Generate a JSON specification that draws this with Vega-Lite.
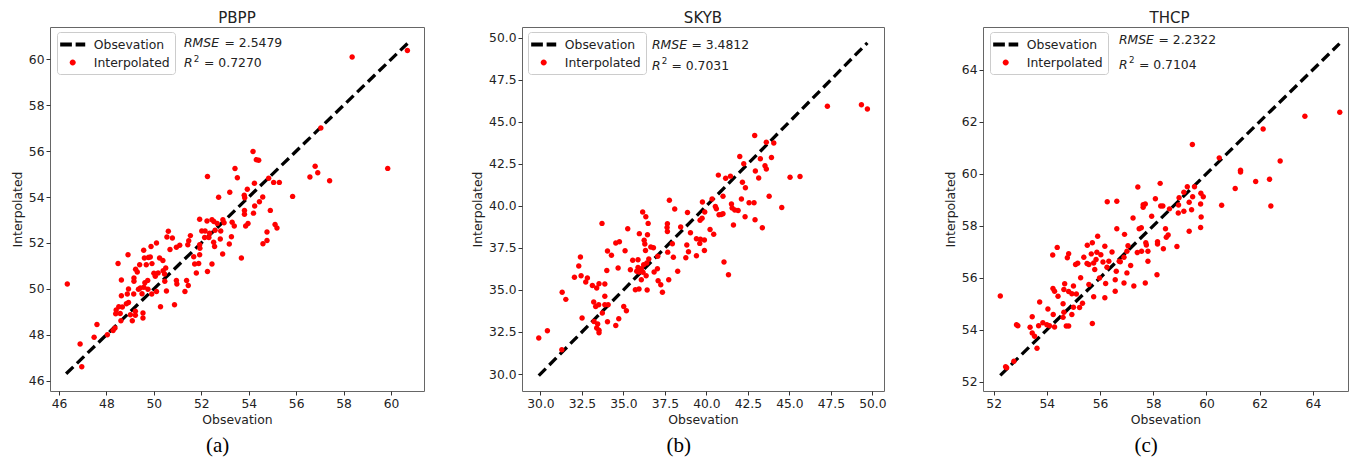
{
  "$schema": "https://vega.github.io/schema/vega-lite/v6.json",
  "background": "white",
  "padding": {"left": 10, "top": 10, "right": 0, "bottom": 0},
  "config": {
    "font": "DejaVu Sans",
    "view": {"stroke": "#666", "strokeWidth": 1},
    "axis": {"grid": false, "domain": false, "tickColor": "#333", "tickSize": 4, "tickWidth": 1, "labelFont": "DejaVu Sans", "labelFontSize": 12.3, "labelColor": "#222", "labelPadding": 2, "titleFont": "DejaVu Sans", "titleFontSize": 12.4, "titleFontWeight": "normal", "titleColor": "#222", "titlePadding": 4},
    "title": {"font": "DejaVu Sans", "color": "#222"},
    "legend": {"title": null, "orient": "none", "legendY": 5, "strokeColor": "#cccccc", "fillColor": "white", "cornerRadius": 3, "padding": 5, "labelFontSize": 12.4, "labelFont": "DejaVu Sans", "labelColor": "#222", "symbolSize": 225, "symbolOffset": 3.2, "labelOffset": 13.6, "rowPadding": 4, "symbolStrokeWidth": 0}
  },
  "datasets": {
    "la": [{"obs": 46.3, "pred": 46.3}, {"obs": 60.7, "pred": 60.7}],
    "lb": [{"obs": 29.9, "pred": 29.9}, {"obs": 49.7, "pred": 49.7}],
    "lc": [{"obs": 52.25, "pred": 52.25}, {"obs": 65.0, "pred": 65.0}],
    "sa": [{"rmse": "= 2.5479", "r2": "= 0.7270"}],
    "sb": [{"rmse": "= 3.4812", "r2": "= 0.7031"}],
    "sc": [{"rmse": "= 2.2322", "r2": "= 0.7104"}],
    "a": [{"obs":46.35,"pred":50.21},{"obs":46.89,"pred":47.60},{"obs":46.96,"pred":46.61},{"obs":47.60,"pred":48.45},{"obs":47.48,"pred":47.89},{"obs":48.04,"pred":48.0},{"obs":48.49,"pred":51.11},{"obs":58.36,"pred":60.10},{"obs":60.69,"pred":60.39},{"obs":57.04,"pred":57.01},{"obs":59.86,"pred":55.25},{"obs":56.80,"pred":55.34},{"obs":56.91,"pred":55.06},{"obs":56.58,"pred":54.87},{"obs":57.41,"pred":54.71},{"obs":55.85,"pred":54.03},{"obs":55.29,"pred":54.64},{"obs":55.05,"pred":54.64},{"obs":54.84,"pred":54.82},{"obs":54.18,"pred":55.99},{"obs":54.32,"pred":55.63},{"obs":54.42,"pred":55.60},{"obs":54.24,"pred":54.60},{"obs":53.42,"pred":55.24},{"obs":53.52,"pred":54.84},{"obs":52.26,"pred":54.90},{"obs":52.73,"pred":53.99},{"obs":53.20,"pred":54.21},{"obs":53.81,"pred":54.08},{"obs":53.94,"pred":54.34},{"obs":53.83,"pred":53.97},{"obs":54.59,"pred":54.00},{"obs":54.45,"pred":53.80},{"obs":54.25,"pred":53.61},{"obs":54.91,"pred":53.42},{"obs":53.82,"pred":53.42},{"obs":54.20,"pred":53.30},{"obs":53.82,"pred":53.25},{"obs":53.97,"pred":52.85},{"obs":53.87,"pred":52.74},{"obs":53.30,"pred":52.90},{"obs":53.39,"pred":52.74},{"obs":53.27,"pred":52.27},{"obs":53.18,"pred":51.95},{"obs":52.90,"pred":51.52},{"obs":55.11,"pred":52.80},{"obs":55.19,"pred":52.65},{"obs":54.77,"pred":52.48},{"obs":54.77,"pred":52.11},{"obs":54.60,"pred":51.97},{"obs":53.69,"pred":51.34},{"obs":51.93,"pred":53.03},{"obs":52.24,"pred":52.96},{"obs":52.45,"pred":53.01},{"obs":52.53,"pred":52.94},{"obs":52.67,"pred":52.85},{"obs":52.91,"pred":53.01},{"obs":52.96,"pred":52.88},{"obs":52.02,"pred":52.52},{"obs":52.16,"pred":52.52},{"obs":52.35,"pred":52.42},{"obs":52.58,"pred":52.55},{"obs":52.82,"pred":52.52},{"obs":52.14,"pred":52.24},{"obs":52.32,"pred":52.24},{"obs":52.52,"pred":52.03},{"obs":52.56,"pred":51.85},{"obs":52.80,"pred":52.17},{"obs":51.93,"pred":51.92},{"obs":51.94,"pred":51.77},{"obs":51.93,"pred":51.49},{"obs":51.89,"pred":51.11},{"obs":52.45,"pred":51.08},{"obs":52.26,"pred":50.76},{"obs":51.79,"pred":50.69},{"obs":51.72,"pred":51.08},{"obs":51.68,"pred":51.40},{"obs":51.47,"pred":52.10},{"obs":51.54,"pred":52.32},{"obs":51.43,"pred":51.92},{"obs":51.38,"pred":50.36},{"obs":51.45,"pred":50.15},{"obs":51.31,"pred":49.89},{"obs":51.09,"pred":51.90},{"obs":50.95,"pred":51.81},{"obs":50.78,"pred":52.22},{"obs":50.61,"pred":52.51},{"obs":50.55,"pred":52.26},{"obs":50.68,"pred":51.72},{"obs":50.95,"pred":50.36},{"obs":50.97,"pred":50.21},{"obs":50.87,"pred":49.31},{"obs":50.53,"pred":49.91},{"obs":50.46,"pred":50.33},{"obs":50.39,"pred":50.79},{"obs":50.45,"pred":50.65},{"obs":50.50,"pred":50.91},{"obs":50.38,"pred":51.24},{"obs":50.24,"pred":51.34},{"obs":50.11,"pred":52.00},{"obs":49.88,"pred":51.85},{"obs":50.18,"pred":50.69},{"obs":50.06,"pred":50.55},{"obs":50.00,"pred":50.68},{"obs":50.11,"pred":49.89},{"obs":50.28,"pred":49.22},{"obs":49.91,"pred":49.78},{"obs":49.75,"pred":49.98},{"obs":49.74,"pred":50.37},{"obs":49.68,"pred":51.05},{"obs":49.60,"pred":51.34},{"obs":49.77,"pred":51.37},{"obs":49.85,"pred":51.39},{"obs":49.92,"pred":51.10},{"obs":49.57,"pred":51.68},{"obs":49.58,"pred":50.07},{"obs":49.62,"pred":50.27},{"obs":49.50,"pred":49.79},{"obs":49.43,"pred":50.04},{"obs":49.54,"pred":48.95},{"obs":49.54,"pred":48.73},{"obs":49.40,"pred":51.05},{"obs":49.30,"pred":50.73},{"obs":49.23,"pred":50.86},{"obs":49.16,"pred":50.47},{"obs":49.16,"pred":50.33},{"obs":49.15,"pred":49.78},{"obs":49.35,"pred":49.98},{"obs":49.22,"pred":49.02},{"obs":49.22,"pred":48.85},{"obs":49.09,"pred":48.61},{"obs":48.91,"pred":51.49},{"obs":48.93,"pred":49.99},{"obs":48.88,"pred":49.78},{"obs":48.93,"pred":49.41},{"obs":48.84,"pred":49.35},{"obs":49.01,"pred":48.87},{"obs":48.63,"pred":50.39},{"obs":48.63,"pred":49.70},{"obs":48.67,"pred":49.21},{"obs":48.52,"pred":49.22},{"obs":48.41,"pred":49.08},{"obs":48.39,"pred":48.92},{"obs":48.58,"pred":48.93},{"obs":48.61,"pred":48.61},{"obs":48.36,"pred":48.29},{"obs":48.28,"pred":48.19}],
    "b": [{"obs":49.70,"pred":45.76},{"obs":49.34,"pred":46.02},{"obs":47.29,"pred":45.92},{"obs":45.64,"pred":41.75},{"obs":45.04,"pred":41.71},{"obs":44.54,"pred":39.91},{"obs":42.91,"pred":44.19},{"obs":43.61,"pred":43.78},{"obs":44.06,"pred":43.74},{"obs":43.92,"pred":42.88},{"obs":43.25,"pred":42.80},{"obs":43.53,"pred":42.39},{"obs":43.61,"pred":42.19},{"obs":42.95,"pred":42.07},{"obs":43.15,"pred":41.66},{"obs":42.01,"pred":42.94},{"obs":42.25,"pred":42.51},{"obs":42.17,"pred":41.40},{"obs":42.35,"pred":41.08},{"obs":41.45,"pred":41.77},{"obs":41.16,"pred":41.64},{"obs":40.72,"pred":41.83},{"obs":43.78,"pred":40.58},{"obs":42.57,"pred":40.19},{"obs":42.87,"pred":40.19},{"obs":42.11,"pred":40.41},{"obs":41.51,"pred":40.11},{"obs":41.00,"pred":40.58},{"obs":40.34,"pred":40.41},{"obs":40.54,"pred":39.97},{"obs":40.60,"pred":39.83},{"obs":41.55,"pred":39.87},{"obs":41.71,"pred":39.75},{"obs":41.91,"pred":39.73},{"obs":42.33,"pred":39.36},{"obs":42.93,"pred":39.18},{"obs":43.37,"pred":38.70},{"obs":41.63,"pred":38.86},{"obs":40.89,"pred":39.49},{"obs":40.76,"pred":39.47},{"obs":41.00,"pred":39.53},{"obs":39.76,"pred":40.23},{"obs":39.90,"pred":39.63},{"obs":39.74,"pred":39.26},{"obs":39.62,"pred":39.14},{"obs":40.22,"pred":38.60},{"obs":40.44,"pred":38.31},{"obs":39.88,"pred":37.97},{"obs":39.64,"pred":38.01},{"obs":39.60,"pred":37.77},{"obs":39.40,"pred":38.05},{"obs":39.88,"pred":37.35},{"obs":39.40,"pred":37.04},{"obs":39.04,"pred":38.40},{"obs":38.86,"pred":39.61},{"obs":38.82,"pred":37.67},{"obs":38.92,"pred":37.27},{"obs":38.76,"pred":36.92},{"obs":38.45,"pred":38.74},{"obs":38.09,"pred":39.81},{"obs":37.77,"pred":40.33},{"obs":37.65,"pred":38.94},{"obs":37.63,"pred":38.72},{"obs":37.65,"pred":38.48},{"obs":37.95,"pred":37.75},{"obs":37.67,"pred":37.25},{"obs":38.01,"pred":36.94},{"obs":37.73,"pred":35.61},{"obs":38.27,"pred":36.11},{"obs":37.35,"pred":34.86},{"obs":37.25,"pred":35.31},{"obs":37.09,"pred":35.55},{"obs":37.05,"pred":36.26},{"obs":36.85,"pred":36.07},{"obs":37.07,"pred":37.00},{"obs":36.81,"pred":37.51},{"obs":36.65,"pred":37.55},{"obs":36.49,"pred":38.96},{"obs":36.35,"pred":39.36},{"obs":36.16,"pred":39.63},{"obs":36.45,"pred":38.29},{"obs":36.25,"pred":37.95},{"obs":36.29,"pred":37.73},{"obs":36.33,"pred":37.35},{"obs":36.53,"pred":36.84},{"obs":36.41,"pred":36.60},{"obs":36.22,"pred":36.50},{"obs":36.18,"pred":36.05},{"obs":36.37,"pred":35.85},{"obs":36.43,"pred":35.00},{"obs":36.08,"pred":35.61},{"obs":35.94,"pred":35.05},{"obs":35.72,"pred":35.01},{"obs":35.96,"pred":38.35},{"obs":35.88,"pred":36.80},{"obs":35.88,"pred":36.34},{"obs":35.80,"pred":36.11},{"obs":35.94,"pred":36.07},{"obs":36.08,"pred":36.26},{"obs":35.56,"pred":36.76},{"obs":35.42,"pred":36.20},{"obs":35.26,"pred":38.64},{"obs":35.10,"pred":37.33},{"obs":34.68,"pred":36.30},{"obs":34.28,"pred":37.06},{"obs":34.54,"pred":37.79},{"obs":34.76,"pred":37.87},{"obs":34.04,"pred":37.31},{"obs":34.00,"pred":36.16},{"obs":33.71,"pred":38.96},{"obs":33.88,"pred":35.35},{"obs":33.88,"pred":34.62},{"obs":34.08,"pred":34.12},{"obs":33.88,"pred":34.12},{"obs":33.73,"pred":33.63},{"obs":33.51,"pred":34.12},{"obs":33.33,"pred":34.02},{"obs":33.21,"pred":34.28},{"obs":33.53,"pred":35.37},{"obs":33.39,"pred":35.11},{"obs":33.13,"pred":35.27},{"obs":32.73,"pred":35.47},{"obs":32.83,"pred":35.71},{"obs":32.45,"pred":35.85},{"obs":32.05,"pred":35.75},{"obs":32.31,"pred":36.42},{"obs":32.41,"pred":36.96},{"obs":31.31,"pred":34.86},{"obs":31.53,"pred":34.44},{"obs":32.51,"pred":33.33},{"obs":33.23,"pred":33.13},{"obs":33.45,"pred":32.97},{"obs":33.53,"pred":32.60},{"obs":33.53,"pred":32.46},{"obs":33.39,"pred":32.74},{"obs":34.04,"pred":33.11},{"obs":34.54,"pred":32.89},{"obs":34.72,"pred":33.29},{"obs":35.02,"pred":34.02},{"obs":35.18,"pred":33.77},{"obs":31.29,"pred":31.45},{"obs":30.42,"pred":32.58},{"obs":29.90,"pred":32.14},{"obs":41.06,"pred":36.66},{"obs":41.33,"pred":35.91}],
    "c": [{"obs":65.01,"pred":62.36},{"obs":63.70,"pred":62.21},{"obs":62.13,"pred":61.72},{"obs":62.77,"pred":60.49},{"obs":62.37,"pred":59.79},{"obs":62.42,"pred":58.76},{"obs":61.85,"pred":59.70},{"obs":61.28,"pred":60.13},{"obs":61.28,"pred":60.07},{"obs":61.08,"pred":59.43},{"obs":60.57,"pred":58.79},{"obs":60.48,"pred":60.61},{"obs":59.47,"pred":61.12},{"obs":59.79,"pred":59.25},{"obs":59.88,"pred":59.12},{"obs":59.78,"pred":58.84},{"obs":59.80,"pred":58.34},{"obs":59.78,"pred":57.93},{"obs":59.55,"pred":59.50},{"obs":59.48,"pred":59.12},{"obs":59.44,"pred":58.62},{"obs":59.35,"pred":57.79},{"obs":59.35,"pred":58.90},{"obs":59.28,"pred":59.50},{"obs":59.15,"pred":59.29},{"obs":59.15,"pred":58.56},{"obs":58.97,"pred":59.08},{"obs":58.95,"pred":58.80},{"obs":58.94,"pred":58.49},{"obs":58.89,"pred":57.20},{"obs":58.61,"pred":58.65},{"obs":58.56,"pred":57.65},{"obs":58.49,"pred":57.56},{"obs":58.46,"pred":57.89},{"obs":58.36,"pred":58.76},{"obs":58.26,"pred":59.63},{"obs":58.08,"pred":59.04},{"obs":58.28,"pred":58.76},{"obs":57.94,"pred":58.37},{"obs":57.80,"pred":56.64},{"obs":57.80,"pred":57.02},{"obs":57.72,"pred":57.35},{"obs":57.74,"pred":57.26},{"obs":57.56,"pred":57.02},{"obs":57.40,"pred":56.97},{"obs":57.42,"pred":59.49},{"obs":57.62,"pred":58.81},{"obs":57.62,"pred":58.71},{"obs":57.70,"pred":58.84},{"obs":57.55,"pred":57.92},{"obs":57.47,"pred":57.89},{"obs":58.16,"pred":57.39},{"obs":58.16,"pred":57.30},{"obs":58.38,"pred":57.12},{"obs":58.14,"pred":56.12},{"obs":57.70,"pred":55.80},{"obs":57.27,"pred":55.69},{"obs":57.15,"pred":56.47},{"obs":57.24,"pred":58.30},{"obs":57.01,"pred":57.02},{"obs":57.05,"pred":57.23},{"obs":56.90,"pred":56.79},{"obs":57.01,"pred":56.19},{"obs":56.90,"pred":55.80},{"obs":56.92,"pred":57.67},{"obs":56.63,"pred":57.89},{"obs":56.63,"pred":58.94},{"obs":56.76,"pred":56.62},{"obs":56.72,"pred":56.64},{"obs":56.61,"pred":56.25},{"obs":56.57,"pred":55.93},{"obs":56.57,"pred":55.48},{"obs":56.45,"pred":56.99},{"obs":56.33,"pred":56.64},{"obs":56.27,"pred":58.92},{"obs":56.26,"pred":56.41},{"obs":56.21,"pred":55.78},{"obs":56.18,"pred":55.23},{"obs":56.18,"pred":57.21},{"obs":56.11,"pred":56.61},{"obs":56.03,"pred":56.89},{"obs":55.98,"pred":55.99},{"obs":55.91,"pred":57.60},{"obs":55.88,"pred":56.98},{"obs":55.85,"pred":56.70},{"obs":55.80,"pred":56.32},{"obs":55.76,"pred":56.57},{"obs":55.71,"pred":57.35},{"obs":55.67,"pred":56.92},{"obs":55.76,"pred":55.27},{"obs":55.71,"pred":54.24},{"obs":55.58,"pred":55.74},{"obs":55.58,"pred":56.51},{"obs":55.52,"pred":57.25},{"obs":55.51,"pred":56.55},{"obs":55.39,"pred":56.79},{"obs":55.34,"pred":55.02},{"obs":55.27,"pred":56.00},{"obs":55.23,"pred":54.86},{"obs":55.16,"pred":56.56},{"obs":55.08,"pred":56.51},{"obs":55.11,"pred":55.38},{"obs":55.00,"pred":55.69},{"obs":55.00,"pred":54.87},{"obs":54.94,"pred":54.59},{"obs":54.94,"pred":55.39},{"obs":54.82,"pred":55.47},{"obs":54.82,"pred":56.93},{"obs":54.77,"pred":56.77},{"obs":54.67,"pred":55.77},{"obs":54.64,"pred":55.55},{"obs":54.61,"pred":55.00},{"obs":54.61,"pred":54.48},{"obs":54.73,"pred":54.15},{"obs":54.82,"pred":54.15},{"obs":54.64,"pred":54.68},{"obs":54.42,"pred":55.29},{"obs":54.23,"pred":55.59},{"obs":54.29,"pred":55.48},{"obs":54.39,"pred":57.17},{"obs":54.22,"pred":56.88},{"obs":54.24,"pred":54.59},{"obs":54.29,"pred":54.11},{"obs":54.04,"pred":54.80},{"obs":54.00,"pred":54.20},{"obs":53.85,"pred":54.27},{"obs":53.73,"pred":55.07},{"obs":53.69,"pred":54.16},{"obs":53.63,"pred":53.29},{"obs":53.54,"pred":53.75},{"obs":53.45,"pred":53.88},{"obs":53.37,"pred":54.10},{"obs":53.45,"pred":54.50},{"obs":52.91,"pred":54.16},{"obs":52.86,"pred":54.20},{"obs":52.25,"pred":55.30},{"obs":52.76,"pred":52.79},{"obs":52.49,"pred":52.54},{"obs":52.45,"pred":52.58},{"obs":54.10,"pred":54.16}]
  },
  "spacing": 56,
  "resolve": {"scale": {"color": "independent", "shape": "independent"}, "legend": {"color": "independent", "shape": "independent"}},
  "hconcat": [
    {
      "spacing": 46,
      "resolve": {"scale": {"color": "independent", "shape": "independent"}, "legend": {"color": "independent", "shape": "independent"}},
      "hconcat": [
        {
          "title": {"text": "(a)", "orient": "bottom", "anchor": "middle", "frame": "bounds", "font": "Liberation Serif", "fontSize": 21, "fontWeight": "normal", "color": "black", "offset": 9},
          "resolve": {"scale": {"color": "independent", "shape": "independent"}, "legend": {"color": "independent", "shape": "independent"}},
          "vconcat": [{
            "width": 374, "height": 364,
            "title": {"text": "PBPP", "fontSize": 15, "fontWeight": "normal", "anchor": "middle", "offset": 1},
            "layer": [
              {"data": {"name": "la"}, "mark": {"type": "line", "color": "black", "strokeDash": [10, 5], "strokeWidth": 3.3},
               "encoding": {"x": {"field": "obs", "type": "quantitative", "scale": {"domain": [45.62, 61.39], "nice": false, "zero": false}, "axis": {"title": "Obsevation", "values": [46,48,50,52,54,56,58,60]}},
                            "y": {"field": "pred", "type": "quantitative", "scale": {"domain": [45.55, 61.41], "nice": false, "zero": false}, "axis": {"title": "Interpolated", "values": [46,48,50,52,54,56,58,60]}}}},
              {"data": {"name": "a"}, "mark": {"type": "point", "filled": true, "size": 188, "opacity": 1},
               "encoding": {"x": {"field": "obs", "type": "quantitative"}, "y": {"field": "pred", "type": "quantitative"},
                            "color": {"datum": "Interpolated", "type": "nominal", "scale": {"domain": ["Obsevation", "Interpolated"], "range": ["black", "#ff0000"]}, "legend": {"legendX": 7}},
                            "shape": {"datum": "Interpolated", "type": "nominal", "scale": {"domain": ["Obsevation", "Interpolated"], "range": ["M-1.67,-0.27H-0.11V0.27H-1.67Z M0.39,-0.27H1.67V0.27H0.39Z", "M0.4,0A0.4,0.4,0,1,1,-0.4,0A0.4,0.4,0,1,1,0.4,0Z"]}, "legend": {"legendX": 7}}}},
              {"data": {"name": "sa"}, "mark": {"type": "text", "align": "left", "baseline": "middle", "fontStyle": "italic", "fontSize": 12.4, "color": "#222"},
               "encoding": {"x": {"datum": 51.27, "type": "quantitative"}, "y": {"datum": 60.71, "type": "quantitative"}, "text": {"value": "RMSE"}}},
              {"data": {"name": "sa"}, "mark": {"type": "text", "align": "left", "baseline": "middle", "fontSize": 12.4, "color": "#222", "dx": 40.5},
               "encoding": {"x": {"datum": 51.27, "type": "quantitative"}, "y": {"datum": 60.71, "type": "quantitative"}, "text": {"field": "rmse"}}},
              {"data": {"name": "sa"}, "mark": {"type": "text", "align": "left", "baseline": "middle", "fontStyle": "italic", "fontSize": 12.4, "color": "#222"},
               "encoding": {"x": {"datum": 51.27, "type": "quantitative"}, "y": {"datum": 59.84, "type": "quantitative"}, "text": {"value": "R"}}},
              {"data": {"name": "sa"}, "mark": {"type": "text", "align": "left", "baseline": "middle", "fontSize": 8.7, "color": "#222", "dx": 9.7, "dy": -4.5},
               "encoding": {"x": {"datum": 51.27, "type": "quantitative"}, "y": {"datum": 59.84, "type": "quantitative"}, "text": {"value": "2"}}},
              {"data": {"name": "sa"}, "mark": {"type": "text", "align": "left", "baseline": "middle", "fontSize": 12.4, "color": "#222", "dx": 20},
               "encoding": {"x": {"datum": 51.27, "type": "quantitative"}, "y": {"datum": 59.84, "type": "quantitative"}, "text": {"field": "r2"}}}
            ]
          }]
        },
        {
          "title": {"text": "(b)", "orient": "bottom", "anchor": "middle", "frame": "bounds", "font": "Liberation Serif", "fontSize": 21, "fontWeight": "normal", "color": "black", "offset": 9},
          "resolve": {"scale": {"color": "independent", "shape": "independent"}, "legend": {"color": "independent", "shape": "independent"}},
          "vconcat": [{
            "width": 362, "height": 364,
            "title": {"text": "SKYB", "fontSize": 15, "fontWeight": "normal", "anchor": "middle", "offset": 1},
            "layer": [
              {"data": {"name": "lb"}, "mark": {"type": "line", "color": "black", "strokeDash": [10, 5], "strokeWidth": 3.3},
               "encoding": {"x": {"field": "obs", "type": "quantitative", "scale": {"domain": [28.89, 50.7], "nice": false, "zero": false}, "axis": {"title": "Obsevation", "values": [30,32.5,35,37.5,40,42.5,45,47.5,50], "format": ".1f"}},
                            "y": {"field": "pred", "type": "quantitative", "scale": {"domain": [28.99, 50.64], "nice": false, "zero": false}, "axis": {"title": "Interpolated", "values": [30,32.5,35,37.5,40,42.5,45,47.5,50], "format": ".1f"}}}},
              {"data": {"name": "b"}, "mark": {"type": "point", "filled": true, "size": 188, "opacity": 1},
               "encoding": {"x": {"field": "obs", "type": "quantitative"}, "y": {"field": "pred", "type": "quantitative"},
                            "color": {"datum": "Interpolated", "type": "nominal", "scale": {"domain": ["Obsevation", "Interpolated"], "range": ["black", "#ff0000"]}, "legend": {"legendX": 6}},
                            "shape": {"datum": "Interpolated", "type": "nominal", "scale": {"domain": ["Obsevation", "Interpolated"], "range": ["M-1.67,-0.27H-0.11V0.27H-1.67Z M0.39,-0.27H1.67V0.27H0.39Z", "M0.4,0A0.4,0.4,0,1,1,-0.4,0A0.4,0.4,0,1,1,0.4,0Z"]}, "legend": {"legendX": 6}}}},
              {"data": {"name": "sb"}, "mark": {"type": "text", "align": "left", "baseline": "middle", "fontStyle": "italic", "fontSize": 12.4, "color": "#222"},
               "encoding": {"x": {"datum": 36.72, "type": "quantitative"}, "y": {"datum": 49.57, "type": "quantitative"}, "text": {"value": "RMSE"}}},
              {"data": {"name": "sb"}, "mark": {"type": "text", "align": "left", "baseline": "middle", "fontSize": 12.4, "color": "#222", "dx": 39.5},
               "encoding": {"x": {"datum": 36.72, "type": "quantitative"}, "y": {"datum": 49.57, "type": "quantitative"}, "text": {"field": "rmse"}}},
              {"data": {"name": "sb"}, "mark": {"type": "text", "align": "left", "baseline": "middle", "fontStyle": "italic", "fontSize": 12.4, "color": "#222"},
               "encoding": {"x": {"datum": 36.72, "type": "quantitative"}, "y": {"datum": 48.34, "type": "quantitative"}, "text": {"value": "R"}}},
              {"data": {"name": "sb"}, "mark": {"type": "text", "align": "left", "baseline": "middle", "fontSize": 8.7, "color": "#222", "dx": 9.7, "dy": -4.5},
               "encoding": {"x": {"datum": 36.72, "type": "quantitative"}, "y": {"datum": 48.34, "type": "quantitative"}, "text": {"value": "2"}}},
              {"data": {"name": "sb"}, "mark": {"type": "text", "align": "left", "baseline": "middle", "fontSize": 12.4, "color": "#222", "dx": 19.5},
               "encoding": {"x": {"datum": 36.72, "type": "quantitative"}, "y": {"datum": 48.34, "type": "quantitative"}, "text": {"field": "r2"}}}
            ]
          }]
        }
      ]
    },
    {
      "title": {"text": "(c)", "orient": "bottom", "anchor": "middle", "frame": "bounds", "font": "Liberation Serif", "fontSize": 21, "fontWeight": "normal", "color": "black", "offset": 9},
      "resolve": {"scale": {"color": "independent", "shape": "independent"}, "legend": {"color": "independent", "shape": "independent"}},
      "vconcat": [{
        "width": 365, "height": 364,
        "title": {"text": "THCP", "fontSize": 15, "fontWeight": "normal", "anchor": "middle", "offset": 1, "dx": 4},
        "layer": [
          {"data": {"name": "lc"}, "mark": {"type": "line", "color": "black", "strokeDash": [10, 5], "strokeWidth": 3.3},
           "encoding": {"x": {"field": "obs", "type": "quantitative", "scale": {"domain": [51.6, 65.32], "nice": false, "zero": false}, "axis": {"title": "Obsevation", "values": [52,54,56,58,60,62,64]}},
                        "y": {"field": "pred", "type": "quantitative", "scale": {"domain": [51.65, 65.64], "nice": false, "zero": false}, "axis": {"title": "Interpolated", "values": [52,54,56,58,60,62,64]}}}},
          {"data": {"name": "c"}, "mark": {"type": "point", "filled": true, "size": 188, "opacity": 1},
           "encoding": {"x": {"field": "obs", "type": "quantitative"}, "y": {"field": "pred", "type": "quantitative"},
                        "color": {"datum": "Interpolated", "type": "nominal", "scale": {"domain": ["Obsevation", "Interpolated"], "range": ["black", "#ff0000"]}, "legend": {"legendX": 7}},
                        "shape": {"datum": "Interpolated", "type": "nominal", "scale": {"domain": ["Obsevation", "Interpolated"], "range": ["M-1.67,-0.27H-0.11V0.27H-1.67Z M0.39,-0.27H1.67V0.27H0.39Z", "M0.4,0A0.4,0.4,0,1,1,-0.4,0A0.4,0.4,0,1,1,0.4,0Z"]}, "legend": {"legendX": 7}}}},
          {"data": {"name": "sc"}, "mark": {"type": "text", "align": "left", "baseline": "middle", "fontStyle": "italic", "fontSize": 12.4, "color": "#222"},
           "encoding": {"x": {"datum": 56.71, "type": "quantitative"}, "y": {"datum": 65.15, "type": "quantitative"}, "text": {"value": "RMSE"}}},
          {"data": {"name": "sc"}, "mark": {"type": "text", "align": "left", "baseline": "middle", "fontSize": 12.4, "color": "#222", "dx": 39.5},
           "encoding": {"x": {"datum": 56.71, "type": "quantitative"}, "y": {"datum": 65.15, "type": "quantitative"}, "text": {"field": "rmse"}}},
          {"data": {"name": "sc"}, "mark": {"type": "text", "align": "left", "baseline": "middle", "fontStyle": "italic", "fontSize": 12.4, "color": "#222"},
           "encoding": {"x": {"datum": 56.71, "type": "quantitative"}, "y": {"datum": 64.19, "type": "quantitative"}, "text": {"value": "R"}}},
          {"data": {"name": "sc"}, "mark": {"type": "text", "align": "left", "baseline": "middle", "fontSize": 8.7, "color": "#222", "dx": 10, "dy": -4.5},
           "encoding": {"x": {"datum": 56.71, "type": "quantitative"}, "y": {"datum": 64.19, "type": "quantitative"}, "text": {"value": "2"}}},
          {"data": {"name": "sc"}, "mark": {"type": "text", "align": "left", "baseline": "middle", "fontSize": 12.4, "color": "#222", "dx": 20},
           "encoding": {"x": {"datum": 56.71, "type": "quantitative"}, "y": {"datum": 64.19, "type": "quantitative"}, "text": {"field": "r2"}}}
        ]
      }]
    }
  ]
}
